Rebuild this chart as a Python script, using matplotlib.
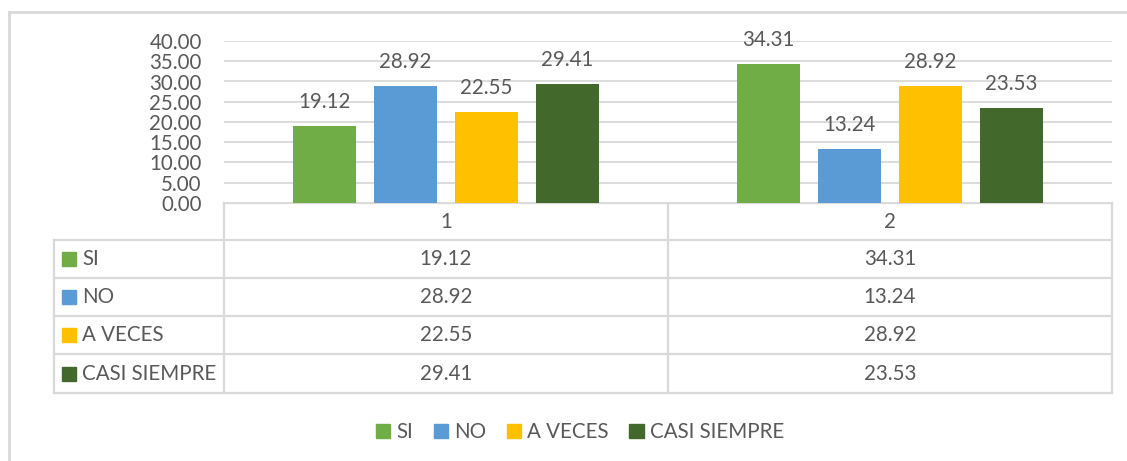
import matplotlib
matplotlib.use("Agg")
import matplotlib.pyplot as plt
from matplotlib.patches import Patch, Rectangle

plt.rcParams['font.family'] = ['Lato', 'DejaVu Sans']

categorias = ['1', '2']
series = ['SI', 'NO', 'A VECES', 'CASI SIEMPRE']
valores = {
    'SI': [19.12, 34.31],
    'NO': [28.92, 13.24],
    'A VECES': [22.55, 28.92],
    'CASI SIEMPRE': [29.41, 23.53],
}
colores = ['#70AD47', '#5B9BD5', '#FFC000', '#43682B']

W, H = 1127, 461
TXT = '#595959'
GRID = '#D9D9D9'
FS = 14.8

fig = plt.figure(figsize=(W / 100, H / 100), dpi=100)

def fx(px):
    return px / W

def fy(py):
    return 1 - py / H

# area del grafico (pixeles)
x0, x1 = 224, 1112
y_top, y_bot = 41, 203
ax = fig.add_axes([fx(x0), fy(y_bot), fx(x1 - x0), (y_bot - y_top) / H])

ancho = 0.142
paso = 0.1825
for i, s in enumerate(series):
    xs = [c + (i - 1.5) * paso for c in range(len(categorias))]
    barras = ax.bar(xs, valores[s], width=ancho, color=colores[i], zorder=3)
    for b, v in zip(barras, valores[s]):
        ax.annotate(f'{v:.2f}', (b.get_x() + b.get_width() / 2, v),
                    xytext=(0, 10), textcoords='offset points',
                    ha='center', va='bottom', fontsize=FS, color=TXT)

ax.set_xlim(-0.5, len(categorias) - 0.5)
ax.set_ylim(0, 40)
ax.set_yticks(range(0, 41, 5))
ax.set_yticklabels([f'{t:.2f}' for t in range(0, 41, 5)])
ax.tick_params(axis='y', length=0, labelsize=FS, labelcolor=TXT, pad=16)
ax.set_xticks([])
ax.grid(axis='y', color=GRID, linewidth=1.3, zorder=0)
for sp in ax.spines.values():
    sp.set_visible(False)

# tabla de datos, en pixeles sobre un eje que cubre la figura
ov = fig.add_axes([0, 0, 1, 1], zorder=-1)
ov.set_xlim(0, W)
ov.set_ylim(H, 0)
ov.axis('off')

# marco exterior
ov.plot([9, 9], [12, H], color=GRID, lw=2)
ov.plot([9, W], [12, 12], color=GRID, lw=2)

t_left = 54
filas = [203, 240, 278, 316, 354, 393]
col_x = [x0, 668, x1]
kw = dict(color=GRID, lw=1.6, solid_capstyle='projecting')
ov.plot([x0, x1], [filas[0], filas[0]], **kw)
for yv in filas[1:]:
    ov.plot([t_left, x1], [yv, yv], **kw)
ov.plot([t_left, t_left], [filas[1], filas[-1]], **kw)
for xv in col_x:
    ov.plot([xv, xv], [filas[0], filas[-1]], **kw)

for j, c in enumerate(categorias):
    cx = (col_x[j] + col_x[j + 1]) / 2
    ov.text(cx, (filas[0] + filas[1]) / 2, c, ha='center', va='center',
            fontsize=FS, color=TXT)
for i, s in enumerate(series):
    cy = (filas[i + 1] + filas[i + 2]) / 2
    ov.add_patch(Rectangle((62, cy - 7), 14, 14, color=colores[i]))
    ov.text(82, cy, s, ha='left', va='center', fontsize=FS, color=TXT)
    for j in range(len(categorias)):
        cx = (col_x[j] + col_x[j + 1]) / 2
        ov.text(cx, cy, f'{valores[s][j]:.2f}', ha='center', va='center',
                fontsize=FS, color=TXT)

handles = [Patch(color=colores[i], label=s) for i, s in enumerate(series)]
fig.legend(handles=handles, loc='center', bbox_to_anchor=(fx(580), fy(432)),
           ncol=4, frameon=False, fontsize=FS, labelcolor=TXT,
           handlelength=0.7, handleheight=0.7, handletextpad=0.3,
           columnspacing=1.0)

fig.savefig('out.png', dpi=100)
